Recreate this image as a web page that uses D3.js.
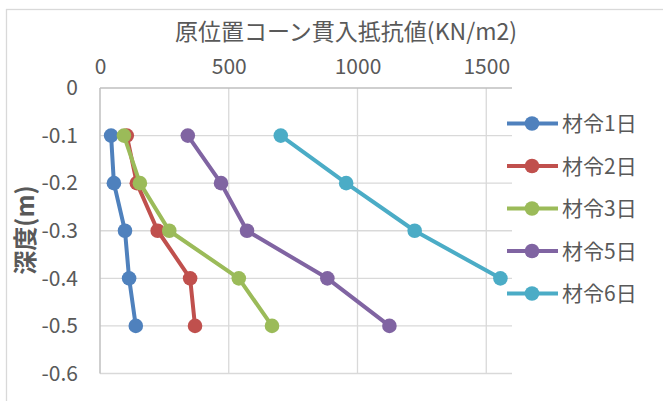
<!DOCTYPE html>
<html>
<head>
<meta charset="utf-8">
<script src="https://cdn.jsdelivr.net/npm/d3@7/dist/d3.min.js"></script>
<style>
  html, body { margin: 0; padding: 0; background: #fff; }
  svg { display: block; font-family: "Noto Sans CJK JP", "Noto Sans", sans-serif; }
</style>
</head>
<body>
<svg id="chart" width="663" height="401"></svg>
<script>
// Cone penetration resistance by depth, per curing age
const depths = [-0.1, -0.2, -0.3, -0.4, -0.5];
const seriesNames = ["材令1日", "材令2日", "材令3日", "材令5日", "材令6日"];
const age1 = [43, 54, 97, 113, 139];
const age2 = [104, 143, 224, 350, 369];
const age3 = [93, 155, 269, 539, 668];
const age5 = [341, 470, 571, 883, 1124];
const age6 = [702, 956, 1222, 1555];
const seriesColors = ["#4F81BD", "#C0504D", "#9BBB59", "#8064A2", "#4BACC6"];
const xTicks = [0, 500, 1000, 1500];
const yTicks = [0, -0.1, -0.2, -0.3, -0.4, -0.5, -0.6];
const titleText = "原位置コーン貫入抵抗値(KN/m2)";
const yTitleText = "深度(m)";

const seriesValues = [age1, age2, age3, age5, age6];
const series = seriesNames.map((name, i) => ({
  name,
  color: seriesColors[i],
  points: seriesValues[i].map((v, j) => ({ x: v, y: depths[j] }))
}));

const svg = d3.select("#chart");
const textColor = "#595959";
const gridColor = "#d9d9d9";
const axisColor = "#bfbfbf";

// outer frame
svg.append("rect")
  .attr("x", 6.5).attr("y", 9.5)
  .attr("width", 700).attr("height", 420)
  .attr("fill", "none").attr("stroke", gridColor).attr("stroke-width", 1.3);

const plot = { left: 100, right: 512, top: 88, bottom: 373.5 };
const x = d3.scaleLinear().domain([0, 1600]).range([plot.left, plot.right]);
const y = d3.scaleLinear().domain([0, -0.6]).range([plot.top, plot.bottom]);

// gridlines
const g = svg.append("g");
g.selectAll("line.vgrid").data(xTicks.filter(t => t > 0)).join("line")
  .attr("class", "vgrid")
  .attr("x1", d => x(d)).attr("x2", d => x(d))
  .attr("y1", plot.top).attr("y2", plot.bottom)
  .attr("stroke", gridColor).attr("stroke-width", 1.3);
g.selectAll("line.hgrid").data(yTicks.filter(t => t < 0)).join("line")
  .attr("class", "hgrid")
  .attr("x1", plot.left).attr("x2", plot.right)
  .attr("y1", d => y(d)).attr("y2", d => y(d))
  .attr("stroke", gridColor).attr("stroke-width", 1.3);

// axes (top value axis, left depth axis)
const xAxis = d3.axisTop(x).tickValues(xTicks).tickSize(0).tickPadding(14)
  .tickFormat(d3.format("d"));
const xg = svg.append("g").attr("transform", `translate(0,${plot.top})`).call(xAxis);
xg.select(".domain").attr("stroke", axisColor).attr("stroke-width", 1.5)
  .attr("d", `M${plot.left},0H${plot.right}`);
xg.selectAll("text").attr("fill", textColor).attr("font-size", 21)
  .attr("font-family", "'Noto Sans CJK JP', sans-serif");

const yAxis = d3.axisLeft(y).tickValues(yTicks).tickSize(0).tickPadding(22)
  .tickFormat(d => d === 0 ? "0" : d.toFixed(1));
const yg = svg.append("g").attr("transform", `translate(${plot.left},0)`).call(yAxis);
yg.select(".domain").attr("stroke", axisColor).attr("stroke-width", 1.5)
  .attr("d", `M0,${plot.top}V${plot.bottom}`);
yg.selectAll("text").attr("fill", textColor).attr("font-size", 21)
  .attr("font-family", "'Noto Sans CJK JP', sans-serif");

// titles
svg.append("text")
  .attr("x", 346).attr("y", 40)
  .attr("text-anchor", "middle")
  .attr("fill", textColor).attr("font-size", 23)
  .text(titleText);
svg.append("text")
  .attr("transform", "translate(34,230) rotate(-90)")
  .attr("text-anchor", "middle")
  .attr("fill", textColor).attr("font-size", 24).attr("font-weight", "bold")
  .text(yTitleText);

// series lines and markers
const line = d3.line().x(d => x(d.x)).y(d => y(d.y));
const sg = svg.append("g").selectAll("g").data(series).join("g");
sg.append("path")
  .attr("d", d => line(d.points))
  .attr("fill", "none").attr("stroke", d => d.color)
  .attr("stroke-width", 4).attr("stroke-linejoin", "round");
sg.selectAll("circle").data(d => d.points.map(p => ({ ...p, color: d.color }))).join("circle")
  .attr("cx", d => x(d.x)).attr("cy", d => y(d.y)).attr("r", 7.3)
  .attr("fill", d => d.color);

// legend
const legend = svg.append("g").selectAll("g").data(series).join("g")
  .attr("transform", (d, i) => `translate(0,${123.5 + i * 42.5})`);
legend.append("line")
  .attr("x1", 507).attr("x2", 558).attr("y1", 0).attr("y2", 0)
  .attr("stroke", d => d.color).attr("stroke-width", 4);
legend.append("circle")
  .attr("cx", 532).attr("cy", 0).attr("r", 7.3)
  .attr("fill", d => d.color);
legend.append("text")
  .attr("x", 562).attr("y", 0).attr("dy", "0.36em")
  .attr("fill", textColor).attr("font-size", 21)
  .text(d => d.name);
</script>
</body>
</html>
